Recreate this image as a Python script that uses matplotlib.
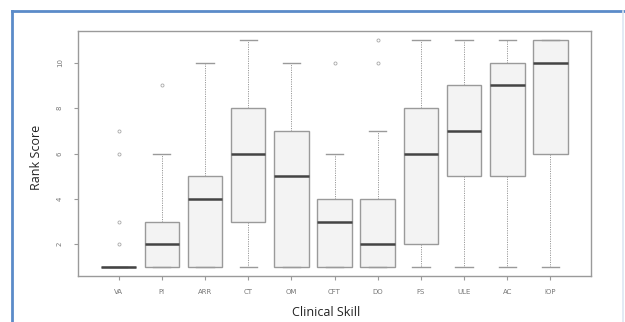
import matplotlib.pyplot as plt
from matplotlib.lines import Line2D

skills = ["VA", "PI", "ARR", "CT", "OM", "CFT", "DO", "FS", "ULE", "AC", "IOP"]
med = [1, 2, 4, 6, 5, 3, 2, 6, 7, 9, 10]
q1 = [1, 1, 1, 3, 1, 1, 1, 2, 5, 5, 6]
q3 = [1, 3, 5, 8, 7, 4, 4, 8, 9, 10, 11]
whislo = [1, 1, 1, 1, 1, 1, 1, 1, 1, 1, 1]
whishi = [1, 6, 10, 11, 10, 6, 7, 11, 11, 11, 11]
fliers = [[2, 3, 6, 7], [9], [], [], [], [10], [10, 11], [], [], [], []]
yticks = [2, 4, 6, 8, 10]

W, H = 625, 322
fig = plt.figure(figsize=(W / 100, H / 100), dpi=100)

# frame around the figure (slide style)
blue = "#5b8bc9"
fig.add_artist(Line2D([11.5 / W, 11.5 / W], [0, 1 - 11 / H], color=blue, lw=2.0))
fig.add_artist(Line2D([11.5 / W, 1], [1 - 11 / H, 1 - 11 / H], color=blue, lw=2.0))
fig.add_artist(Line2D([623 / W, 623 / W], [0, 1 - 11 / H], color="#dde6f2", lw=1.2))

ax = fig.add_axes([78 / W, 46 / H, (591 - 78) / W, (276 - 31) / H])

stats = []
for i in range(len(skills)):
    stats.append(dict(med=med[i], q1=q1[i], q3=q3[i], whislo=whislo[i],
                      whishi=whishi[i], fliers=fliers[i], label=skills[i]))

gray = "#9a9a9a"
ax.bxp(stats, positions=range(1, len(skills) + 1), widths=0.8,
       patch_artist=True,
       boxprops=dict(facecolor="#f3f3f3", edgecolor=gray, lw=1.0),
       medianprops=dict(color="#444444", lw=1.8, solid_capstyle="butt"),
       whiskerprops=dict(color=gray, lw=0.7, ls=(0, (1.2, 1.2))),
       capprops=dict(color=gray, lw=1.0),
       capwidths=0.4,
       flierprops=dict(marker="o", markersize=2.2, markerfacecolor="none",
                       markeredgecolor="#a8a8a8", markeredgewidth=0.6))

ax.set_xlim(0.06, 11.94)
ax.set_ylim(0.6, 11.4)
ax.set_yticks(yticks)
ax.set_yticklabels([str(v) for v in yticks], rotation=90, va="center")
for s in ax.spines.values():
    s.set_color(gray)
    s.set_linewidth(1.0)
ax.tick_params(axis="both", colors=gray, labelcolor="#777777", labelsize=5,
               length=3, width=0.8)
ax.tick_params(axis="y", pad=8)
ax.tick_params(axis="x", pad=6)

fig.text(37 / W, 1 - 157 / H, "Rank Score", rotation=90, ha="center",
         va="center", fontsize=9, family="Open Sans", color="#222222")
fig.text(326 / W, 1 - 312 / H, "Clinical Skill", ha="center", va="center",
         fontsize=9, family="Open Sans", color="#222222")

fig.savefig("out.png", dpi=100)
